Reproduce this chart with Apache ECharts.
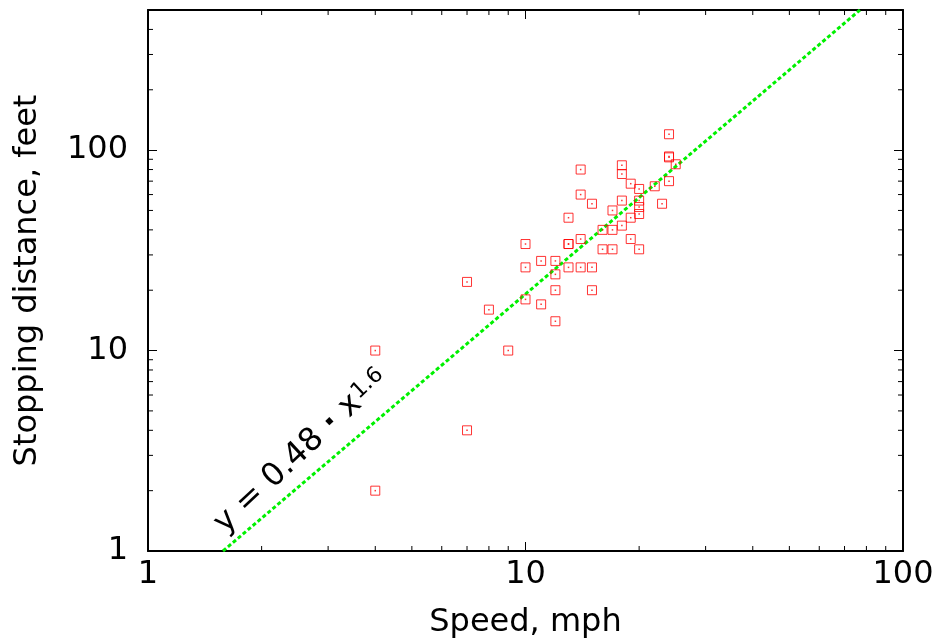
<!DOCTYPE html>
<html><head><meta charset="utf-8">
<script src="https://cdn.jsdelivr.net/npm/echarts@6/dist/echarts.min.js"></script>
<style>html,body{margin:0;padding:0;background:#fff}#c{width:940px;height:641px}</style>
</head><body><div id="c"></div>
<script>
// Data (cars: speed in mph, stopping distance in feet)
const speed = [4,4,7,7,8,9,10,10,10,11,11,12,12,12,12,13,13,13,13,14,14,14,14,15,15,15,16,16,17,17,17,18,18,18,18,19,19,19,20,20,20,20,20,22,23,24,24,24,24,25];
const dist  = [2,10,4,22,16,10,18,26,34,17,28,14,20,24,28,26,34,34,46,26,36,60,80,20,26,54,32,40,32,40,50,42,56,76,84,36,46,68,32,48,52,56,64,66,54,70,92,93,120,85];
// Fit line endpoints
const fitX = [1.58, 76.9];
const fitY = [1, 500];
// Ticks
const xTickLabels = [1, 10, 100];
const yTickLabels = [1, 10, 100];
const xMinorTicks = [2,3,4,5,6,7,8,9,20,30,40,50,60,70,80,90];
const yMinorTicks = [2,3,4,5,6,7,8,9,20,30,40,50,60,70,80,90,200,300,400];
const xName = 'Speed, mph';
const yName = 'Stopping distance, feet';
const fitLabelA = 'y = 0.48 ';
const fitLabelDot = '·';
const fitLabelB = ' x';
const fitLabelSup = '1.6';

const FONT = 'DejaVu Sans';
const points = speed.map((s, i) => [s, dist[i]]);
const fitLine = fitX.map((x, i) => [x, fitY[i]]);

const isLabel = (list) => (v) => list.some(t => Math.abs(t - v) < 1e-6 * t) ? String(Math.round(v)) : '';

function axisCommon(pos, min, max, showLabel, labels) {
  return {
    type: 'log', logBase: 10, position: pos, min: min, max: max,
    axisLine: { show: true, onZero: false, lineStyle: { color: '#000', width: 2 } },
    axisTick: { show: true, inside: true, length: 9, lineStyle: { color: '#000', width: 1 } },
    minorTick: { show: false },
    splitLine: { show: false },
    axisLabel: { show: showLabel, formatter: isLabel(labels), fontFamily: FONT, fontSize: 32, color: '#000',
                 margin: pos === 'left' ? 20 : 8, showMaxLabel: true, showMinLabel: true }
  };
}

const chart = echarts.init(document.getElementById('c'), null, { renderer: 'canvas' });

const xA0 = axisCommon('bottom', 1, 100, true, xTickLabels);
xA0.name = xName; xA0.nameLocation = 'middle'; xA0.nameGap = 56;
xA0.nameTextStyle = { fontFamily: FONT, fontSize: 32, color: '#000' };
const xA1 = axisCommon('top', 1, 100, false, xTickLabels);
const yA0 = axisCommon('left', 1, 500, true, yTickLabels);
yA0.name = yName; yA0.nameLocation = 'middle'; yA0.nameGap = 104;
yA0.nameTextStyle = { fontFamily: FONT, fontSize: 32, color: '#000' };
const yA1 = axisCommon('right', 1, 500, false, yTickLabels);

function minorX(params, api) {
  const cs = params.coordSys;
  const p = api.coord([api.value(0), 1]);
  const b = cs.y + cs.height, t = cs.y;
  return { type: 'group', children: [
    { type: 'line', shape: { x1: p[0], y1: b, x2: p[0], y2: b - 5 }, style: { stroke: '#000', lineWidth: 1 } },
    { type: 'line', shape: { x1: p[0], y1: t, x2: p[0], y2: t + 5 }, style: { stroke: '#000', lineWidth: 1 } }
  ]};
}
function minorY(params, api) {
  const cs = params.coordSys;
  const p = api.coord([1, api.value(1)]);
  const l = cs.x, r = cs.x + cs.width;
  return { type: 'group', children: [
    { type: 'line', shape: { x1: l, y1: p[1], x2: l + 5, y2: p[1] }, style: { stroke: '#000', lineWidth: 1 } },
    { type: 'line', shape: { x1: r, y1: p[1], x2: r - 5, y2: p[1] }, style: { stroke: '#000', lineWidth: 1 } }
  ]};
}

chart.setOption({
  animation: false,
  backgroundColor: '#fff',
  grid: { left: 148, right: 37, top: 10, bottom: 90, containLabel: false, outerBoundsMode: 'none' },
  xAxis: [xA0, xA1],
  yAxis: [yA0, yA1],
  series: [
    { type: 'custom', xAxisIndex: 0, yAxisIndex: 0, data: xMinorTicks.map(v => [v, 1]), renderItem: minorX, silent: true, clip: false, z: 5 },
    { type: 'custom', xAxisIndex: 0, yAxisIndex: 0, data: yMinorTicks.map(v => [1, v]), renderItem: minorY, silent: true, clip: false, z: 5 },
    { type: 'line', xAxisIndex: 0, yAxisIndex: 0, data: fitLine, showSymbol: false, symbol: 'none',
      lineStyle: { color: '#00f000', width: 3, type: [4, 2.5] }, silent: true, z: 3 },
    { type: 'scatter', xAxisIndex: 0, yAxisIndex: 0, data: points, symbol: 'rect', symbolSize: 9,
      itemStyle: { color: 'rgba(0,0,0,0)', borderColor: '#ff0000', borderWidth: 1 }, silent: true, z: 4 },
    { type: 'scatter', xAxisIndex: 0, yAxisIndex: 0, data: points, symbol: 'rect', symbolSize: 1.5,
      itemStyle: { color: '#ff0000' }, silent: true, z: 4 }
  ],
  graphic: [{
    type: 'text', x: 219, y: 528, rotation: 43 * Math.PI / 180, z: 10,
    style: {
      text: '{m|' + fitLabelA + '}{d|' + fitLabelDot + '}{m|' + fitLabelB + '}{s|' + fitLabelSup + '}',
      align: 'left', verticalAlign: 'middle',
      rich: {
        m: { fontFamily: FONT, fontSize: 32, lineHeight: 36, verticalAlign: 'middle', fill: '#000' },
        d: { fontFamily: FONT, fontSize: 32, fontWeight: 'bold', lineHeight: 36, verticalAlign: 'middle', fill: '#000' },
        s: { fontFamily: FONT, fontSize: 22, lineHeight: 22, padding: [0, 0, 9, 1], verticalAlign: 'middle', fill: '#000' }
      }
    }
  }]
});
</script>
</body></html>
